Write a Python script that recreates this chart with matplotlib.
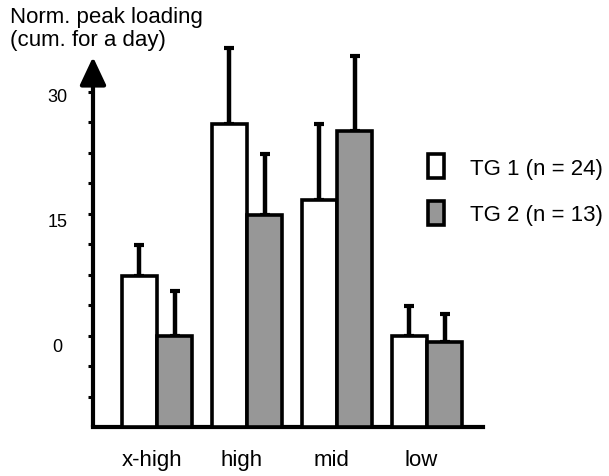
import numpy as np
import matplotlib
matplotlib.use("Agg")
import matplotlib.pyplot as plt
from matplotlib.transforms import ScaledTranslation

plt.rcParams['font.family'] = ['Liberation Sans', 'DejaVu Sans']

categories = ["x-high", "high", "mid", "low"]
tg1 = [7.4, 26.1, 16.7, 0.0]
tg1_err = [3.7, 9.3, 9.4, 3.6]
tg2 = [0.0, 14.8, 25.2, -0.8]
tg2_err = [5.5, 7.6, 9.2, 3.5]
labels = ["TG 1 (n = 24)", "TG 2 (n = 13)"]
ytick_vals = np.arange(-7.5, 30.1, 3.75)
ytick_shown = [0, 15, 30]

ymin, ymax = -11.25, 34.3
w = 0.39
x = np.arange(len(categories))

fig = plt.figure(figsize=(6.09, 4.77), dpi=100)
ax = fig.add_axes([93 / 609, 1 - 428 / 477, (483 - 93) / 609, (428 - 58) / 477])

h1 = [v - ymin for v in tg1]
h2 = [v - ymin for v in tg2]
b1 = ax.bar(x - w / 2, h1, w, bottom=ymin, color='white', edgecolor='black', linewidth=2.6, zorder=3)
b2 = ax.bar(x + w / 2, h2, w, bottom=ymin, color='#979797', edgecolor='black', linewidth=2.6, zorder=3)
ax.errorbar(x - w / 2, tg1, yerr=[np.zeros(4), tg1_err], fmt='none', ecolor='black',
            elinewidth=3.2, capsize=3.8, capthick=3, zorder=2, clip_on=False)
ax.errorbar(x + w / 2, tg2, yerr=[np.zeros(4), tg2_err], fmt='none', ecolor='black',
            elinewidth=3.2, capsize=3.8, capthick=3, zorder=2, clip_on=False)

ax.set_xlim(-0.711, 3.622)
ax.set_ylim(ymin, ymax)

ax.set_xticks(x - 0.06)
ax.set_xticklabels(categories, fontsize=16)
ax.tick_params(axis='x', length=0, pad=16)
ax.set_yticks(ytick_vals)
ax.set_yticklabels([("%g" % v) if v in ytick_shown else "" for v in ytick_vals], fontsize=13)
ax.tick_params(axis='y', length=3.5, width=2.2, pad=22, direction='out')

# the scanned labels sit a little below their ticks
drop = {"30": 3, "15": 6, "0": 9}
for t in ax.get_yticklabels():
    t.set_horizontalalignment('center')
    d = drop.get(t.get_text(), 0)
    t.set_transform(t.get_transform() + ScaledTranslation(0, -d / 100, fig.dpi_scale_trans))

for s in ['top', 'right', 'left']:
    ax.spines[s].set_visible(False)
ax.spines['bottom'].set_linewidth(3)

# y axis drawn as an arrow
ax.annotate('', xy=(0, 1), xycoords='axes fraction', xytext=(0, 0),
            arrowprops=dict(arrowstyle='-|>,head_length=1.7,head_width=0.8', lw=3,
                            color='black', mutation_scale=10, shrinkA=0, shrinkB=0))

fig.text(10 / 609, 1 - 7 / 477, "Norm. peak loading\n(cum. for a day)", fontsize=16,
         va='top', ha='left', linespacing=1.15)

ax.legend([b1, b2], labels, loc='upper left', bbox_to_anchor=(428 / 609, 1 - 155 / 477),
          bbox_transform=fig.transFigure, frameon=False, fontsize=16, borderpad=0,
          borderaxespad=0, handlelength=0.7, handleheight=1.3, labelspacing=1.0,
          handletextpad=1.2)

fig.savefig("out.png", dpi=100, facecolor='white')
